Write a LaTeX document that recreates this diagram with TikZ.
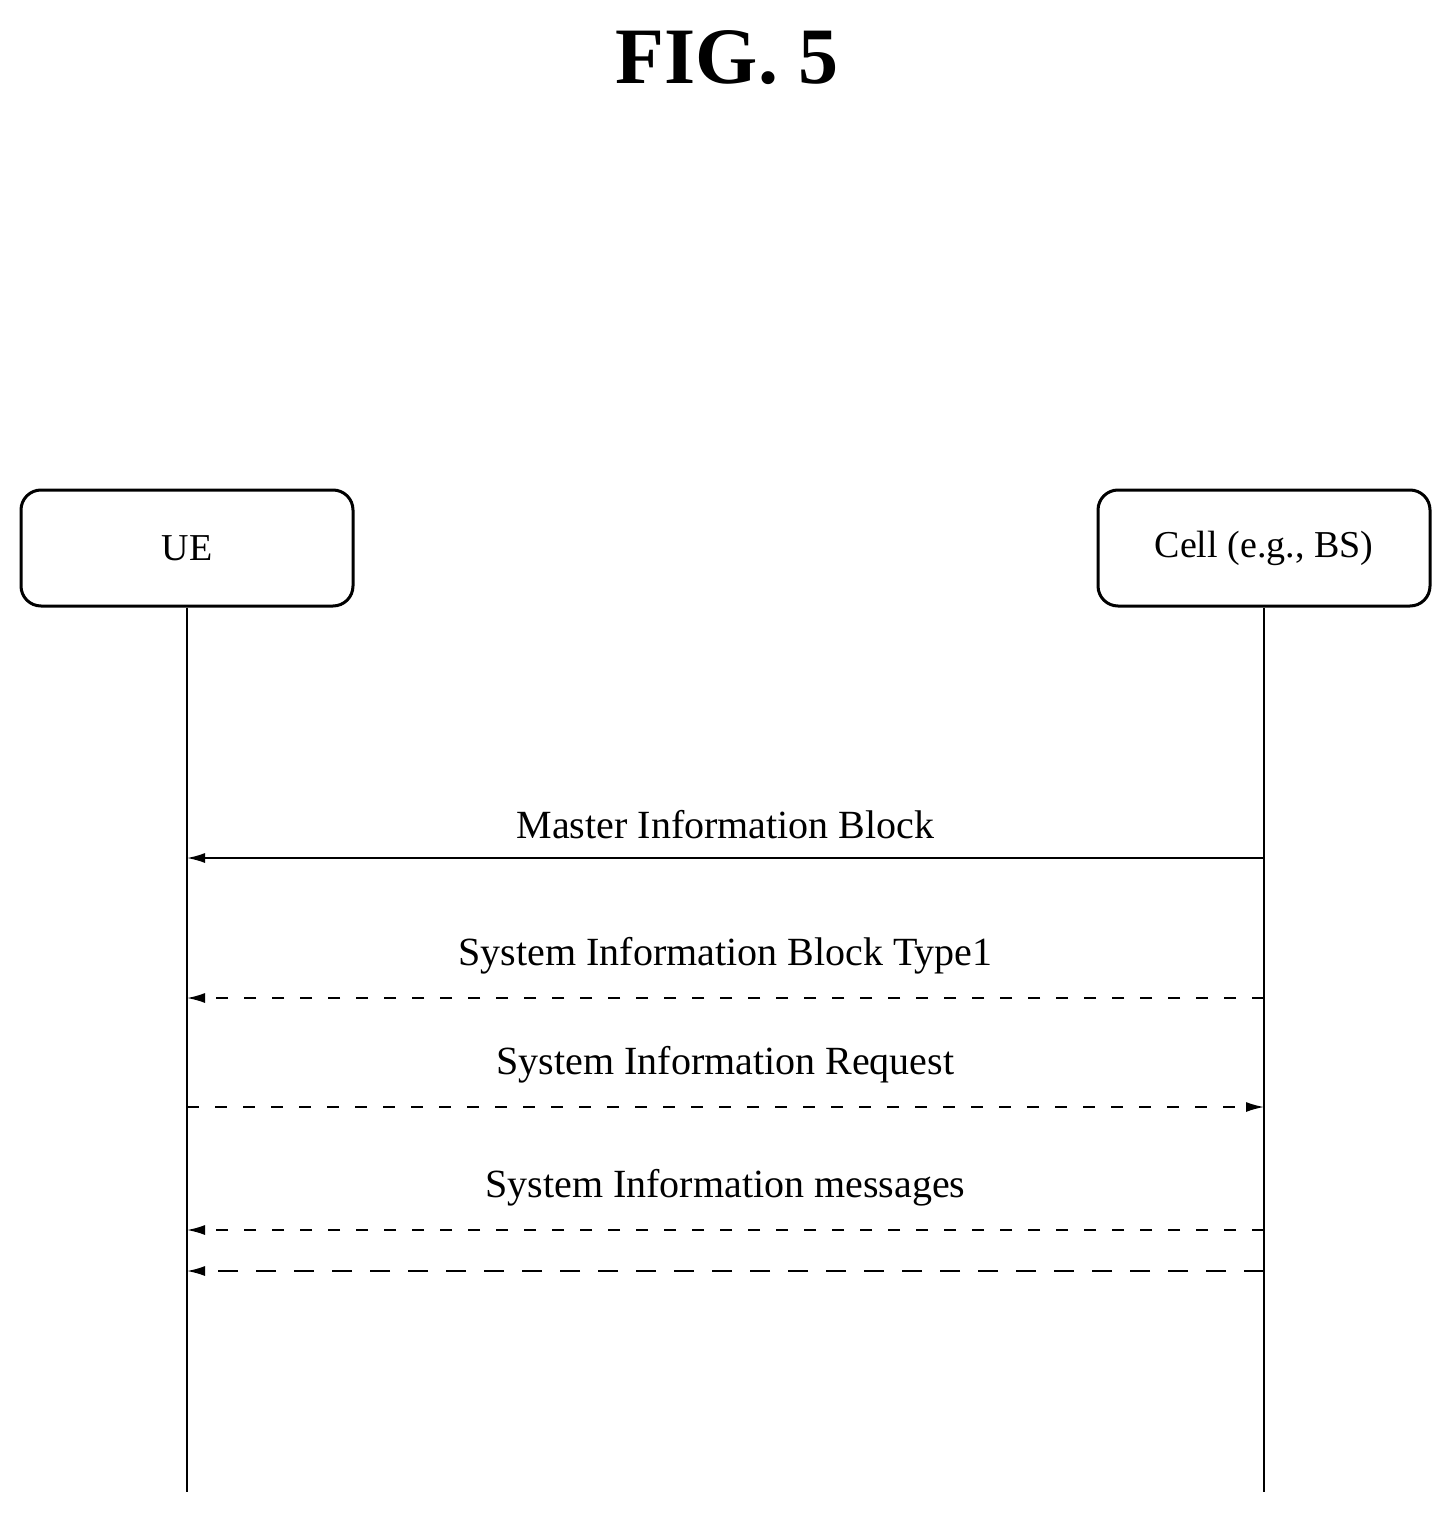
\documentclass[tikz,border=0pt]{standalone}
\usepackage{fontspec}
\setmainfont{Liberation Serif}
\usetikzlibrary{arrows.meta}
\begin{document}
\begin{tikzpicture}[x=0.5pt,y=-0.5pt,
  actor/.style={draw,line width=1.5pt,rounded corners=10pt,minimum width=166pt,minimum height=58pt,font=\fontsize{19}{22}\selectfont},
  life/.style={line width=0.8pt},
  msg/.style={line width=0.8pt,-{Latex[length=9pt,width=5pt]}},
  sd/.style={dash pattern=on 6pt off 8pt},
  ld/.style={dash pattern=on 10pt off 9pt},
  lbl/.style={font=\fontsize{20}{24}\selectfont}]
\useasboundingbox (0,0) rectangle (1453,1514);
\node[font=\bfseries\fontsize{40}{44}\selectfont] (title) at (727,58) {FIG. 5};
\node[actor] (ue) at (187,548) {UE};
\node[actor] (bs) at (1264,548) {Cell (e.g., BS)};
\coordinate (ueb) at (187,1492);
\coordinate (bsb) at (1264,1492);
\draw[life] (ue.south) -- (ueb);
\draw[life] (bs.south) -- (bsb);
\foreach \n/\y in {a/858,b/998,c/1107,d/1230,e/1271}{
  \coordinate (u\n) at (187,\y); \coordinate (c\n) at (1264,\y);}
\draw[msg] (ca) -- node[lbl,above=6pt] {Master Information Block} (ua);
\draw[msg,sd] (cb) -- node[lbl,above=8pt] {System Information Block Type1} (ub);
\draw[msg,sd] (uc) -- node[lbl,above=8pt] {System Information Request} (cc);
\draw[msg,sd] (cd) -- node[lbl,above=8pt] {System Information messages} (ud);
\draw[msg,ld] (ce) -- (ue);
\end{tikzpicture}
\end{document}
